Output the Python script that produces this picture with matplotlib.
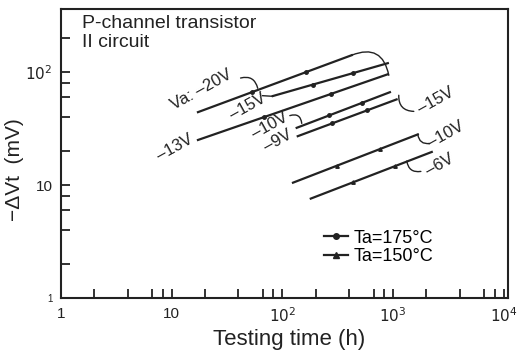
import matplotlib.pyplot as plt
from matplotlib.ticker import FixedLocator, NullFormatter

plt.rcParams['font.family'] = ['Liberation Sans', 'DejaVu Sans']

# curves: (start, end) in hours and mV
# Ta = 175 C (dots)
t175_20v = [17.3, 425]
v175_20v = [44, 140]
t175_15v = [82, 900]
v175_15v = [61, 119]
t175_13v = [17.3, 900]
v175_13v = [25, 95]
t175_10v = [135, 940]
v175_10v = [32, 66]
t175_9v = [138, 1080]
v175_9v = [27, 57]
# Ta = 150 C (triangles)
t150_10v = [125, 1680]
v150_10v = [10.5, 28]
t150_6v = [181, 2245]
v150_6v = [7.6, 19.6]

series = [
    (t175_20v, v175_20v, 'o'),
    (t175_15v, v175_15v, 'o'),
    (t175_13v, v175_13v, 'o'),
    (t175_10v, v175_10v, 'o'),
    (t175_9v, v175_9v, 'o'),
    (t150_10v, v150_10v, '^'),
    (t150_6v, v150_6v, '^'),
]

# voltage labels: text, time, mV
lab_text = ['Va: \u201320V', '\u201315V', '\u201313V', '\u201310V', '\u20139V',
            '\u201315V', '\u201310V', '\u20136V']
lab_t = [18.4, 49, 10.7, 77, 91, 2440, 3000, 2650]
lab_v = [70, 49, 21.5, 33.6, 24.8, 56, 28, 15.2]

fig = plt.figure(figsize=(5.2, 3.6), dpi=100)
ax = fig.add_axes([0.1173, 0.171, 0.8590, 0.803])

ink = '#222222'
for t, v, m in series:
    ax.plot(t, v, color=ink, lw=1.6)
    # two small markers along each line
    for f in (0.35, 0.7):
        tm = t[0] * (t[1] / t[0]) ** f
        vm = v[0] * (v[1] / v[0]) ** f
        ax.plot([tm], [vm], marker=m, ms=2.5, color=ink)

ax.set_xscale('log')
ax.set_yscale('log')
ax.set_xlim(1, 1.09e4)
ax.set_ylim(1, 355)

ax.xaxis.set_major_locator(FixedLocator([1, 10, 100, 1000, 10000]))
ax.set_xticklabels(['1', '10', '$10^2$', '$10^3$', '$10^4$'])
ax.xaxis.set_minor_locator(FixedLocator([d * k for d in (1, 10, 100, 1000) for k in (2, 4, 6.7, 8.3)]))
ax.yaxis.set_major_locator(FixedLocator([1, 10, 100]))
ax.set_yticklabels(['1', '10', '$10^2$'])
ax.yaxis.set_minor_locator(FixedLocator([d * k for d in (1, 10, 100) for k in (2, 4, 6, 8)]))
ax.xaxis.set_minor_formatter(NullFormatter())
ax.yaxis.set_minor_formatter(NullFormatter())
ax.tick_params(which='both', direction='in', length=6.5, width=1.3, labelsize=11,
               top=False, right=False, colors=ink)
ax.tick_params(axis='y', pad=6)
ax.tick_params(axis='x', pad=6)
ax.get_yticklabels()[0].set_fontsize(7)
for s in ax.spines.values():
    s.set_linewidth(1.5)
    s.set_color(ink)

ax.set_xlabel('Testing time (h)', fontsize=16, color=ink)
ax.xaxis.set_label_coords(0.51, -0.105)
fig.text(15 / 520, 1 - 170 / 360, '\u2212\u0394Vt  (mV)', fontsize=15, rotation=90,
         ha='center', va='center', color=ink)

ax.text(0.047, 0.979, 'P-channel transistor\nII circuit', transform=ax.transAxes,
        fontsize=14, va='top', ha='left', linespacing=1.1, color=ink)

for s, t, v in zip(lab_text, lab_t, lab_v):
    ax.text(t, v, s, fontsize=12, rotation=29, ha='center', va='center',
            rotation_mode='anchor', color=ink)

# leader lines
lead = dict(arrowstyle='-', color=ink, lw=1.0, shrinkA=0, shrinkB=0)
ax.annotate('', xy=(60, 71.5), xytext=(42, 88), arrowprops=dict(connectionstyle='arc3,rad=-0.5', **lead))
ax.annotate('', xy=(82, 60.7), xytext=(66, 61.5), arrowprops=dict(connectionstyle='arc3,rad=0', **lead))
ax.annotate('', xy=(150, 35), xytext=(117, 41), arrowprops=dict(connectionstyle='arc3,rad=-0.6', **lead))
ax.annotate('', xy=(1545, 44.7), xytext=(1130, 62), arrowprops=dict(connectionstyle='arc3,rad=0.5', **lead))
ax.annotate('', xy=(2150, 23.3), xytext=(1680, 28), arrowprops=dict(connectionstyle='arc3,rad=0.5', **lead))
ax.annotate('', xy=(1790, 13.2), xytext=(1336, 16.3), arrowprops=dict(connectionstyle='arc3,rad=0.5', **lead))
ax.annotate('', xy=(918, 93), xytext=(425, 140), arrowprops=dict(connectionstyle='arc3,rad=-0.6', **lead))

# legend
ax.plot([], [], color=ink, lw=1.6, marker='o', ms=4, label='Ta=175\u00b0C')
ax.plot([], [], color=ink, lw=1.6, marker='^', ms=4, label='Ta=150\u00b0C')
ax.legend(loc='center left', bbox_to_anchor=(0.589, 0.176), frameon=False, fontsize=13,
          handlelength=1.33, handletextpad=0.28, labelspacing=0.1,
          borderpad=0, borderaxespad=0)

fig.savefig('out.png', dpi=100)
